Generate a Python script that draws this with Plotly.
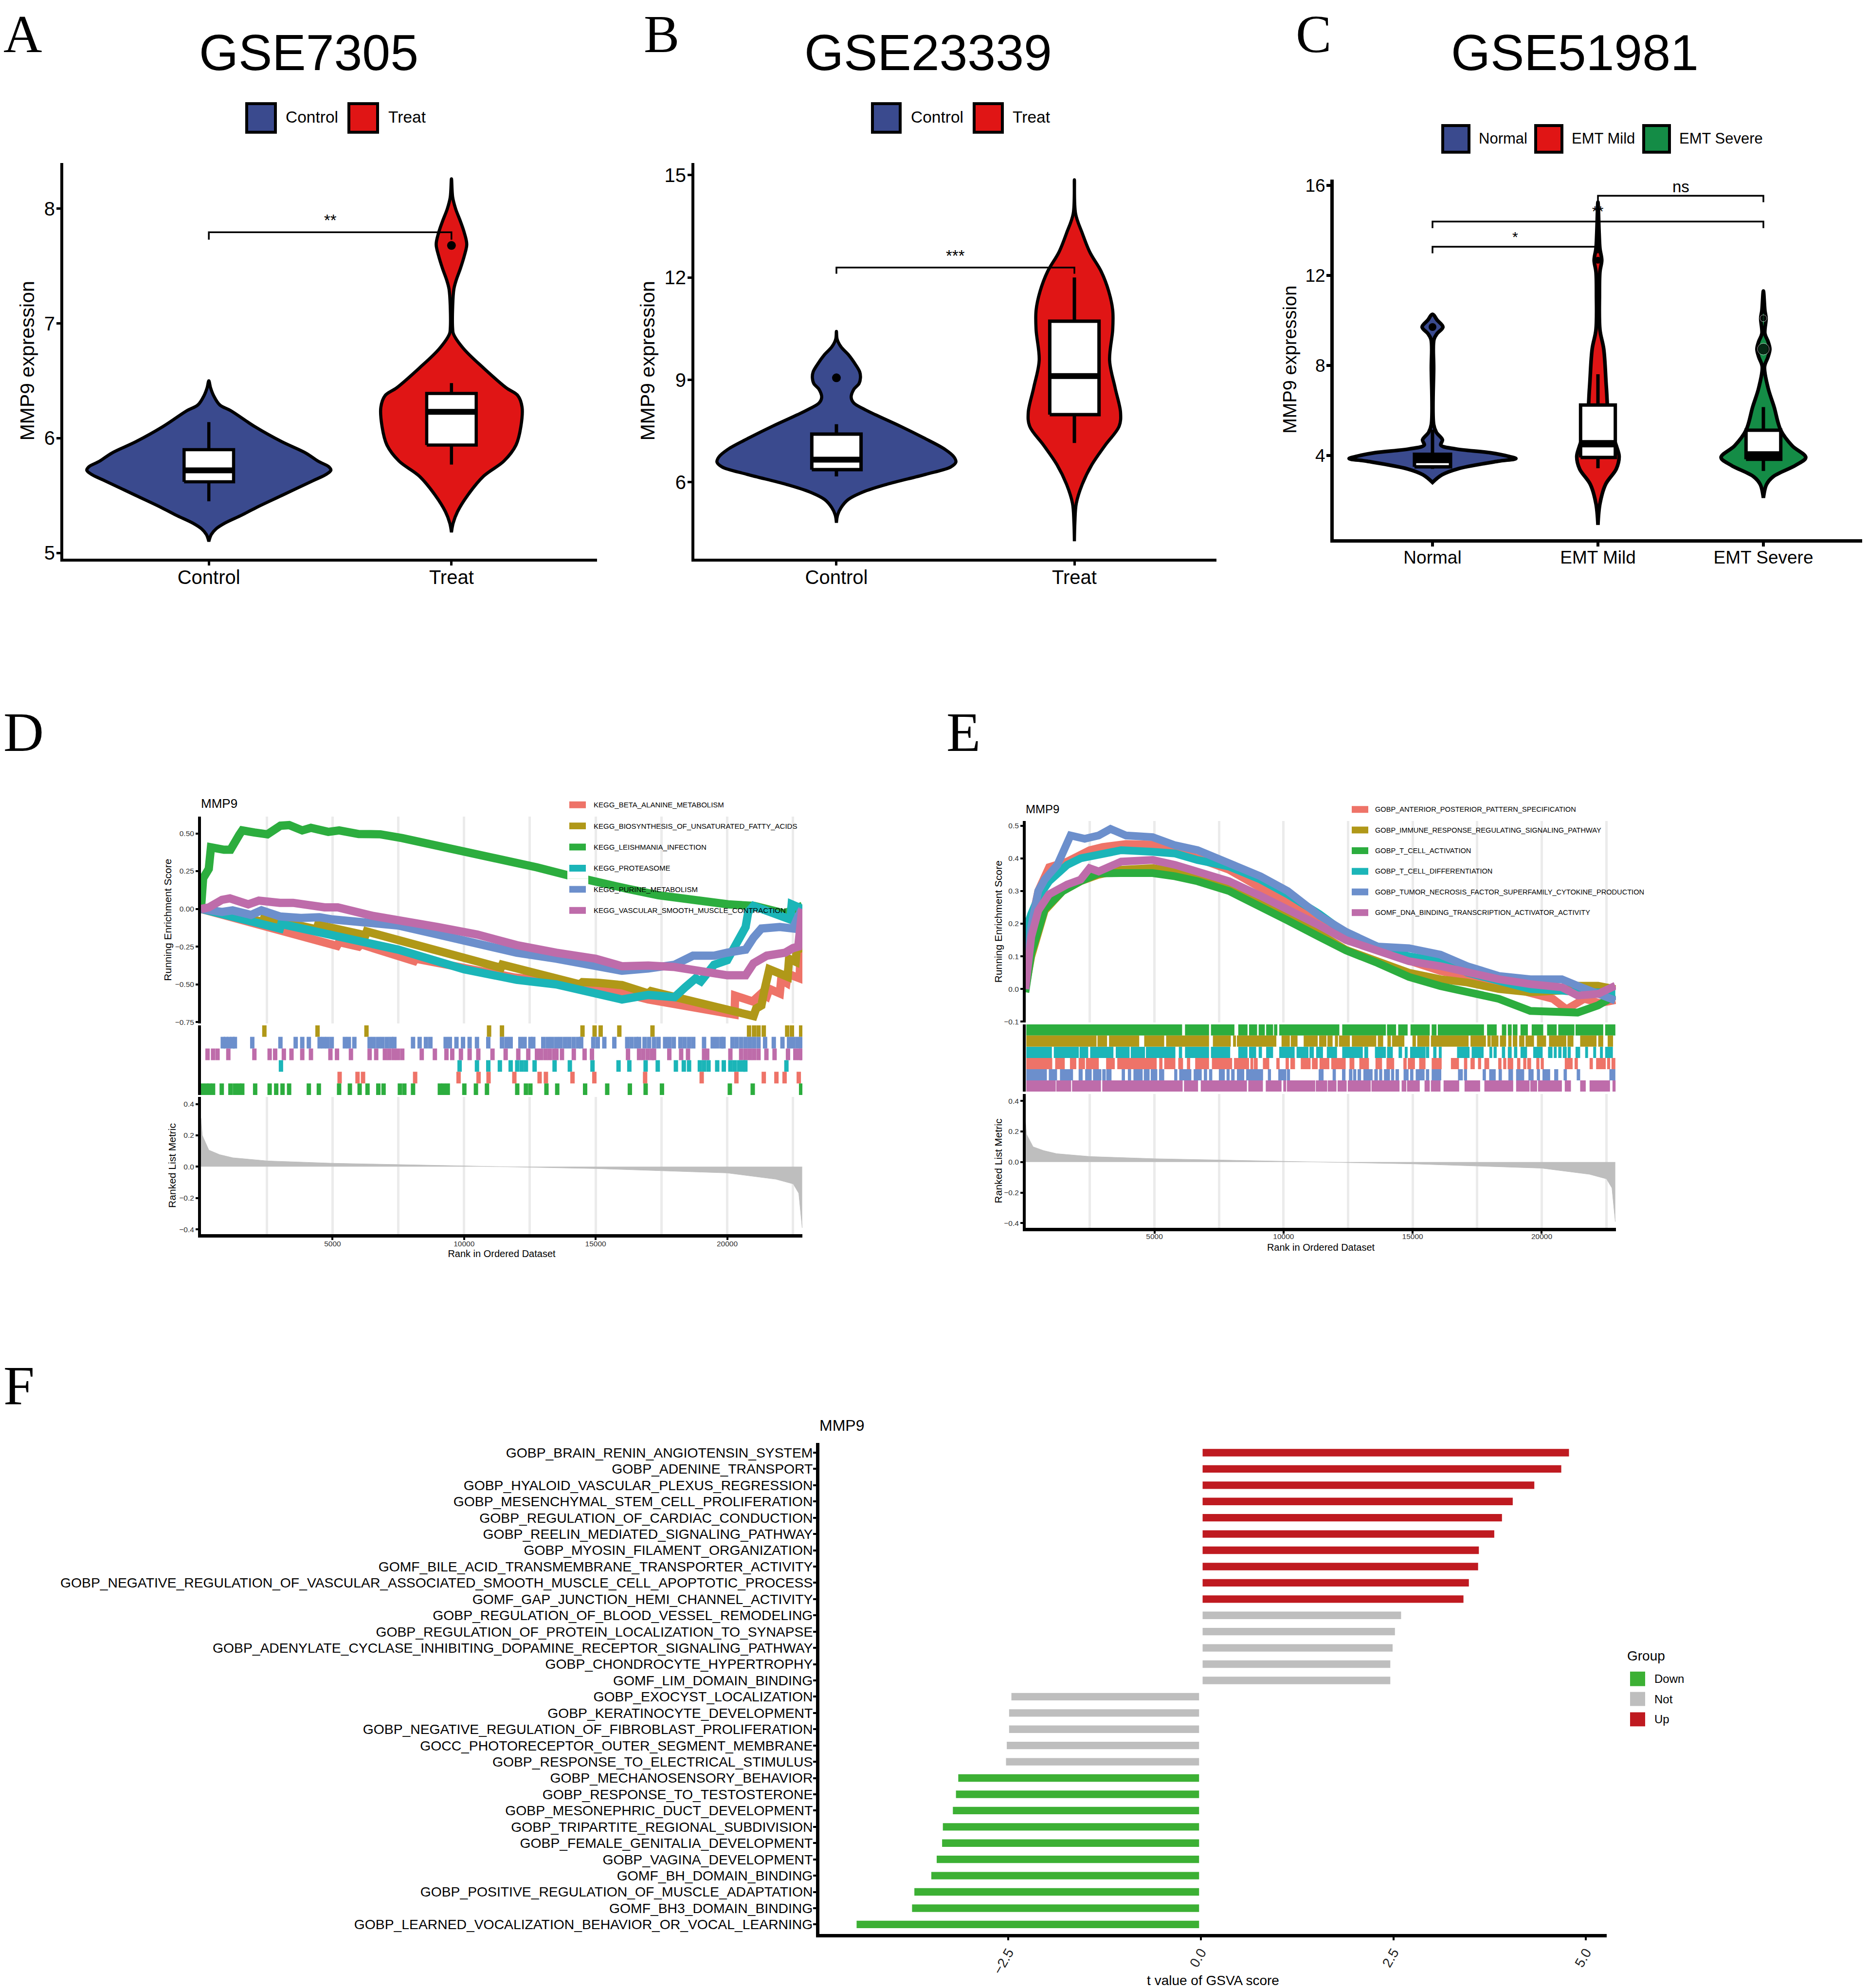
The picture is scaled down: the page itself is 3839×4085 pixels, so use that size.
import plotly.graph_objects as go

W, H = 3839, 4085
SANS = "Liberation Sans"
SERIF = "Liberation Serif"
NAVY, RED, DGREEN = "#3A4A8E", "#E01515", "#148C46"
SALMON, OLIVE, GREEN, TEAL, BLUE, PURPLE = "#EE7368", "#B09818", "#2CAD3E", "#1BB5B8", "#6C8FCC", "#BE6CAA"
GRID = "#EBEBEB"

# ---------- Panel A ----------
a_categories = ["Control", "Treat"]
a_ctrl_y = [6.50,6.44,6.37,6.29,6.24,6.10,5.97,5.87,5.80,5.75,5.72,5.68,5.63,5.50,5.40,5.33,5.26,5.21,5.16,5.10]
a_ctrl_w = [0,.007,.02,.045,.09,.19,.30,.40,.45,.495,.503,.48,.43,.30,.20,.136,.066,.03,.01,0]
a_treat_y = [8.26,8.10,8.0,7.89,7.79,7.69,7.59,7.48,7.38,7.30,7.15,6.95,6.91,6.78,6.61,6.44,6.37,6.27,6.10,5.94,5.80,5.67,5.50,5.36,5.26,5.18]
a_treat_w = [0,.005,.017,.037,.053,.063,.053,.037,.02,.01,.005,.005,.008,.05,.133,.225,.274,.291,.286,.266,.216,.133,.066,.025,.007,0]
a_boxes = [(5.45,5.62,5.72,5.90,6.14),(5.77,5.94,6.23,6.39,6.48)]
a_outliers = [[],[7.68]]

# ---------- Panel B ----------
b_categories = ["Control", "Treat"]
b_ctrl_y = [10.42,10.19,9.96,9.74,9.45,9.23,9.06,8.89,8.72,8.49,8.32,8.15,7.98,7.64,7.30,6.96,6.74,6.59,6.45,6.23,5.94,5.72,5.49,5.26,5.04,4.81]
b_ctrl_w = [0,.003,.02,.05,.08,.098,.101,.095,.073,.062,.073,.114,.163,.269,.367,.457,.494,.502,.481,.375,.212,.114,.049,.02,.005,0]
b_treat_y = [14.86,13.87,13.30,12.74,12.17,11.60,11.04,10.47,9.57,8.77,8.04,7.64,7.08,6.51,5.94,5.38,4.81,4.27]
b_treat_w = [0,.005,.033,.065,.113,.144,.161,.161,.148,.171,.194,.188,.129,.073,.033,.008,.002,0]
b_boxes = [(6.17,6.37,6.66,7.41,7.70),(7.15,7.98,9.11,10.72,12.0)]
b_outliers = [[9.06],[]]

# ---------- Panel C ----------
c_categories = ["Normal", "EMT Mild", "EMT Severe"]
c_norm_y = [10.28,10.02,9.71,9.42,9.16,7.87,5.38,5.03,4.69,4.46,4.29,4.12,3.95,3.86,3.74,3.40,3.14,2.80]
c_norm_w = [0,.028,.063,.028,.009,.007,.007,.023,.06,.05,.139,.348,.465,.504,.395,.151,.058,0]
c_mild_y = [15.26,13.89,13.2,12.68,12.17,11.13,9.59,8.73,7.01,5.29,4.43,3.95,3.40,2.71,1.85,0.91]
c_mild_w = [0,.007,.012,.023,.012,.009,.012,.035,.051,.07,.111,.128,.111,.046,.012,0]
c_sev_y = [11.31,10.45,10.10,9.42,9.07,8.73,8.38,7.95,7.01,6.15,5.12,4.43,3.91,3.57,3.05,2.71,2.11]
c_sev_w = [0,.009,.016,.009,.028,.039,.028,.007,.028,.065,.105,.174,.256,.197,.058,.019,0]
c_boxes = [(3.40,3.49,3.85,4.05,5.15),(3.43,3.91,4.52,6.24,7.61),(3.31,3.83,4.00,5.12,6.15)]
c_outliers = [[9.71],[12.68],[10.1,8.73]]

# ---------- Panel D ----------
d_names = ["KEGG_BETA_ALANINE_METABOLISM","KEGG_BIOSYNTHESIS_OF_UNSATURATED_FATTY_ACIDS","KEGG_LEISHMANIA_INFECTION","KEGG_PROTEASOME","KEGG_PURINE_METABOLISM","KEGG_VASCULAR_SMOOTH_MUSCLE_CONTRACTION"]
d_red_x = [0,3022,5170,5250,5995,6080,8100,8150,11940,14500,15000,17000,19091,20280,20300,21000,21050,21300,21500,21600,22000,22050,22250,22300,22750,22800,22850]
d_red_y = [0,-.15,-.245,-.22,-.25,-.235,-.345,-.33,-.455,-.50,-.51,-.60,-.665,-.70,-.575,-.615,-.60,-.56,-.58,-.53,-.56,-.47,-.49,-.43,-.46,-.05,0]
d_olive_x = [0,2350,2400,4400,4450,6250,6300,11000,11400,11450,14400,14500,15000,15100,16000,17000,17100,20800,21000,21100,21300,21400,21500,21600,22300,22350,22600,22650,22800,22850]
d_olive_y = [0,-.085,-.06,-.135,-.105,-.175,-.15,-.375,-.39,-.37,-.50,-.485,-.50,-.49,-.505,-.56,-.545,-.705,-.71,-.66,-.64,-.55,-.47,-.40,-.45,-.33,-.35,-.25,-.28,0]
d_green_x = [0,83,297,380,875,1123,1453,1569,2031,2527,3022,3353,3848,4178,4839,5252,5995,6821,7646,8472,9463,10454,11610,12766,13922,15078,16234,17390,18546,20033,21024,22180,22856]
d_green_y = [0,.203,.265,.408,.392,.392,.49,.52,.506,.494,.551,.555,.52,.537,.51,.52,.496,.494,.469,.439,.404,.367,.316,.275,.224,.173,.132,.09,.06,.03,.02,-.03,.02]
d_teal_x = [0,3000,3050,7500,10000,12000,13500,15000,16000,17000,18000,18400,18800,19000,19500,20000,20400,20700,20800,21000,22400,22450,22850]
d_teal_y = [0,-.13,-.10,-.27,-.40,-.47,-.50,-.56,-.60,-.57,-.585,-.52,-.46,-.48,-.37,-.34,-.21,-.12,-.02,.02,-.07,.03,0]
d_blue_x = [0,800,1200,1900,2300,3000,3800,4500,5000,5800,6300,7500,9000,10500,12000,13500,15000,16000,17000,18000,18700,19500,20000,20700,21000,21300,22000,22500,22700,22850]
d_blue_y = [0,-.02,-.01,-.04,-.01,-.05,-.06,-.055,-.07,-.08,-.09,-.11,-.17,-.23,-.29,-.33,-.37,-.41,-.395,-.37,-.31,-.31,-.29,-.27,-.19,-.13,-.12,-.13,-.05,0]
d_purple_x = [0,300,800,1100,1800,2200,3000,3500,4700,5200,6500,7500,9000,10500,12000,13500,15000,16000,17000,18000,19000,20000,20700,21000,21500,22200,22500,22700,22850]
d_purple_y = [0,.01,.06,.07,.03,.055,.04,.04,.01,.01,-.045,-.07,-.12,-.17,-.24,-.29,-.33,-.38,-.375,-.385,-.41,-.44,-.44,-.36,-.31,-.29,-.26,-.25,0]
d_rug_olive = [2410,4430,6290,10950,11440,14500,14960,15190,15900,17160,20830,21020,21190,21390,22280,22460,22810]
d_rug_blue = [830,950,1070,1200,1290,1950,3020,3600,3850,4100,4510,4660,4810,4970,5470,5620,5830,6410,6570,6740,6900,7070,7230,7350,8060,8310,8550,8720,9300,9460,9710,9960,10210,10490,10920,11440,11610,11770,12140,12300,12520,12630,13010,13180,13340,13510,13670,13840,14000,14170,14340,14450,14910,15080,15330,15710,16200,16360,16530,16650,16860,17030,17220,17390,17640,17800,17970,18220,18380,18550,18710,19120,19450,19610,19780,19860,20200,20360,20530,20700,20860,21020,21190,21440,21770,22100,22350,22510,22670,22810]
d_rug_purple = [250,460,630,1040,2030,2610,2820,3150,3440,3850,4180,4920,5170,5700,6410,6660,6990,7150,7320,7480,7650,8390,8890,9330,9550,9880,10210,10540,11080,11580,12060,12440,12770,12930,13100,13260,13430,13510,13720,14170,14580,14860,16230,16650,16810,16980,17140,17220,17800,18250,18510,19120,19240,20120,20530,20700,20860,21020,21190,21490,21800,22310,22590,22750,22840]
d_rug_teal = [3040,9830,10490,10920,11360,11770,12020,12190,12350,12680,13440,14020,14880,15870,16280,16900,17360,18050,18350,18550,18960,19120,19290,19620,19870,20120,20280,20450,20610,20690,22250]
d_rug_red = [5270,5950,6160,8140,9790,10550,10930,11910,12870,13110,14120,14950,16880,19030,20350,21390,21870,22180,22720]
d_rug_green = [50,200,330,460,790,1120,1290,1450,1570,2060,2610,2860,3100,3350,4100,4480,5250,5660,6030,6330,6740,6940,7560,7730,8060,9080,9220,9380,10010,10450,10870,12020,12350,12520,13130,13540,14600,15440,16300,16900,17520,20100,20970,22810]
d_metric_x = [0,50,300,710,1210,2520,5000,10000,11100,15000,20000,21850,22510,22720,22790,22850]
d_metric_y = [.31,.2,.106,.077,.057,.037,.022,.004,0,-.012,-.04,-.08,-.11,-.17,-.29,-.39]

# ---------- Panel E ----------
e_names = ["GOBP_ANTERIOR_POSTERIOR_PATTERN_SPECIFICATION","GOBP_IMMUNE_RESPONSE_REGULATING_SIGNALING_PATHWAY","GOBP_T_CELL_ACTIVATION","GOBP_T_CELL_DIFFERENTIATION","GOBP_TUMOR_NECROSIS_FACTOR_SUPERFAMILY_CYTOKINE_PRODUCTION","GOMF_DNA_BINDING_TRANSCRIPTION_ACTIVATOR_ACTIVITY"]
e_red_x = [0,230,500,920,1620,2490,3000,3900,4930,5630,6670,7890,9110,10160,11380,12600,13640,14860,16080,17120,18340,19560,20430,20960,21650,22260,22850]
e_red_y = [0,.2,.3,.373,.39,.425,.435,.444,.442,.43,.40,.365,.31,.265,.2,.16,.118,.085,.055,.038,.014,-.01,-.03,-.062,-.03,-.043,-.034]
e_olive_x = [0,230,750,1450,2140,2840,3710,4930,5800,6670,7890,9110,10160,11380,12420,13640,14860,16080,17120,18340,19560,20780,21390,22180,22850]
e_olive_y = [0,.10,.24,.30,.33,.35,.365,.37,.36,.345,.31,.265,.22,.17,.12,.085,.05,.03,.02,0,-.01,-.005,.01,.01,0]
e_green_x = [0,140,230,750,1450,2140,2840,3710,4930,5800,6670,7890,9110,10160,11380,12420,13640,14860,16080,17120,18340,19560,20780,21390,22180,22850]
e_green_y = [-.01,.05,.11,.245,.30,.33,.354,.355,.355,.345,.33,.30,.255,.21,.16,.118,.08,.037,.009,-.01,-.03,-.067,-.071,-.072,-.05,-.02]
e_teal_x = [0,100,230,500,920,1620,2140,2840,3710,4930,5800,6670,7890,9110,10160,11380,12420,13640,14860,16080,17120,18340,19560,20780,21390,22180,22850]
e_teal_y = [.05,.2,.23,.28,.33,.38,.40,.41,.425,.42,.415,.395,.375,.335,.29,.23,.17,.13,.10,.085,.05,.025,0,-.005,-.01,-.01,-.01]
e_blue_x = [0,230,500,750,1240,1750,2300,2840,3300,3900,4930,5800,6670,7890,9110,10160,11380,12420,13640,14860,16080,17120,18340,19560,20780,21390,22180,22850]
e_blue_y = [0,.19,.30,.335,.38,.47,.46,.47,.49,.47,.465,.44,.425,.385,.345,.30,.225,.175,.13,.125,.105,.07,.04,.03,.03,.01,-.015,-.035]
e_purple_x = [0,230,500,920,1620,2140,2490,2840,3710,4930,5800,6670,7890,9110,10160,11380,12420,13640,14860,16080,17120,18340,19560,20780,21390,22180,22850]
e_purple_y = [0,.16,.24,.29,.32,.335,.37,.36,.39,.395,.38,.36,.33,.285,.245,.195,.15,.115,.085,.07,.05,.03,.015,.005,-.02,-.015,.01]
e_rug_green = [(37,6072),(6184,7115),(7189,8098),(8247,8605),(8664,8977),(9037,9275),(9327,9596),(9633,9760),(9834,12162),(12273,13964),(14009,14359),(14441,14806),(14918,15663),(15738,15924),(15976,17764),(17883,18256),(18457,18628),(18688,18837),(18881,19060),(19179,19463),(19612,20059),(20208,20580),(20640,21265),(21310,22383),(22457,22852)]
e_rug_olive = [(37,2757),(2794,3166),(3241,4410),(4604,5379),(5453,7115),(7264,7957),(8046,8158),(8195,9722),(9923,10244),(10281,10542),(10780,11324),(11379,11662),(11700,11901),(11990,12109),(12147,12571),(12646,13592),(13652,13860),(14024,14158),(14203,14680),(14993,15127),(15179,15648),(15708,17168),(17242,17838),(17898,18025),(18047,18323),(18382,18621),(18703,18829),(18881,19053),(19127,19328),(19373,19701),(19813,20170),(20282,20953),(20997,21228),(21489,22122),(22189,22383),(22554,22763)]
e_rug_teal = [(37,1028),(1103,2071),(2101,2436),(2511,3412),(3502,4038),(4083,4634),(4671,5811),(5945,6072),(6184,7115),(7189,7934),(8247,8605),(8664,8940),(9037,9164),(9327,9596),(9834,10430),(10505,10966),(11004,11175),(11264,11528),(11677,12072),(12273,13070),(13130,13279),(13540,13964),(14009,14233),(14456,14590),(14695,14806),(14903,15499),(15514,15641),(15797,15924),(16013,16125),(16721,17205),(17287,17749),(17973,18084),(18136,18256),(18457,18583),(18688,18837),(18926,19053),(19179,19433),(19671,20036),(20245,20416),(20468,20580),(20640,20766),(20818,20967),(21005,21124),(21310,21489),(21683,21794),(21995,22107),(22256,22368),(22457,22755)]
e_rug_red = [(37,1043),(1155,1527),(1728,1974),(2064,2310),(2347,2846),(3129,3464),(3561,5088),(5185,5312),(5379,5811),(5923,6109),(6258,6385),(6578,7115),(7226,8009),(8083,8664),(8717,8828),(8851,9000),(9201,9447),(9722,9849),(10080,10207),(10266,10445),(10668,11048),(11101,11324),(11394,11774),(11849,12407),(12556,12743),(12936,13309),(13562,13815),(13987,14285),(14642,14769),(14814,15089),(15253,15499),(15738,16125),(16483,16795),(16989,17116),(17242,17406),(17533,17652),(17779,17965),(18315,18442),(18509,18628),(18680,18896),(19045,19172),(19284,19403),(19440,19589),(19790,19910),(19962,20081),(20893,21198),(21273,21400),(21854,21981),(22107,22480),(22532,22651),(22703,22852)]
e_rug_blue = [(37,834),(909,1229),(1341,1848),(2064,2220),(2317,2570),(2622,2943),(2980,3114),(3136,3338),(3732,3859),(3971,4098),(4187,4544),(4589,4813),(4857,5111),(5178,5379),(5766,5886),(5960,6429),(6519,6832),(6914,7040),(7115,7241),(7495,7726),(7793,7912),(7972,8106),(8195,8478),(8553,9208),(9394,9514),(9797,10110),(10132,10251),(11361,11551),(11901,12027),(12266,12400),(12534,12668),(12698,12817),(12869,13003),(13093,13450),(13517,13652),(13704,13823),(13890,14121),(14166,14285),(14337,14471),(14650,14844),(14903,15030),(15119,15462),(15514,15641),(15738,16110),(16758,16944),(16989,17108),(17712,17838),(17965,18218),(18330,18457),(18710,18889),(19008,19321),(19485,19686),(19813,19932),(20029,20327),(20483,20640),(20848,20975),(21355,21489),(22621,22852)]
e_rug_purple = [(37,1177),(1199,1773),(1810,2928),(2980,6094),(6146,6690),(6794,8582),(8635,9201),(9312,9923),(9990,10102),(10132,11227),(11250,11692),(11715,12050),(12094,12445),(12489,13376),(13406,14493),(14575,14754),(14784,15276),(15462,15663),(15708,16080),(16199,16803),(17011,17615),(17779,18896),(19008,19530),(19559,19820),(19857,20781),(20893,21131),(21489,21705),(21854,22644),(22741,22860)]
e_metric_x = [0,50,300,710,1210,2520,5000,10000,11100,15000,20000,21850,22510,22720,22790,22850]
e_metric_y = [.28,.18,.10,.075,.055,.036,.022,.004,0,-.012,-.04,-.08,-.11,-.17,-.29,-.39]

# ---------- Panel F ----------
f_terms = ["GOBP_BRAIN_RENIN_ANGIOTENSIN_SYSTEM","GOBP_ADENINE_TRANSPORT","GOBP_HYALOID_VASCULAR_PLEXUS_REGRESSION","GOBP_MESENCHYMAL_STEM_CELL_PROLIFERATION","GOBP_REGULATION_OF_CARDIAC_CONDUCTION","GOBP_REELIN_MEDIATED_SIGNALING_PATHWAY","GOBP_MYOSIN_FILAMENT_ORGANIZATION","GOMF_BILE_ACID_TRANSMEMBRANE_TRANSPORTER_ACTIVITY","GOBP_NEGATIVE_REGULATION_OF_VASCULAR_ASSOCIATED_SMOOTH_MUSCLE_CELL_APOPTOTIC_PROCESS","GOMF_GAP_JUNCTION_HEMI_CHANNEL_ACTIVITY",
 "GOBP_REGULATION_OF_BLOOD_VESSEL_REMODELING","GOBP_REGULATION_OF_PROTEIN_LOCALIZATION_TO_SYNAPSE","GOBP_ADENYLATE_CYCLASE_INHIBITING_DOPAMINE_RECEPTOR_SIGNALING_PATHWAY","GOBP_CHONDROCYTE_HYPERTROPHY","GOMF_LIM_DOMAIN_BINDING","GOBP_EXOCYST_LOCALIZATION","GOBP_KERATINOCYTE_DEVELOPMENT","GOBP_NEGATIVE_REGULATION_OF_FIBROBLAST_PROLIFERATION","GOCC_PHOTORECEPTOR_OUTER_SEGMENT_MEMBRANE","GOBP_RESPONSE_TO_ELECTRICAL_STIMULUS",
 "GOBP_MECHANOSENSORY_BEHAVIOR","GOBP_RESPONSE_TO_TESTOSTERONE","GOBP_MESONEPHRIC_DUCT_DEVELOPMENT","GOBP_TRIPARTITE_REGIONAL_SUBDIVISION","GOBP_FEMALE_GENITALIA_DEVELOPMENT","GOBP_VAGINA_DEVELOPMENT","GOMF_BH_DOMAIN_BINDING","GOBP_POSITIVE_REGULATION_OF_MUSCLE_ADAPTATION","GOMF_BH3_DOMAIN_BINDING","GOBP_LEARNED_VOCALIZATION_BEHAVIOR_OR_VOCAL_LEARNING"]
f_values = [4.78,4.68,4.33,4.05,3.91,3.81,3.61,3.60,3.48,3.41,2.60,2.52,2.49,2.46,2.46,-2.46,-2.49,-2.49,-2.52,-2.53,-3.15,-3.18,-3.22,-3.35,-3.36,-3.43,-3.50,-3.72,-3.75,-4.47]
f_groups = ["Up"]*10 + ["Not"]*10 + ["Down"]*10
f_colors = {"Up": "#BF1A20", "Not": "#BEBEBE", "Down": "#3CB034"}
f_gap = 0.023

fig = go.Figure()
layout = {}
shapes = []
annots = []
axis_count = 0


def px_x(x): return x / W
def px_y(y): return 1 - y / H


def new_axes(L, R, T, B, xcfg, ycfg):
    global axis_count
    axis_count += 1
    n = axis_count
    sx = "" if n == 1 else str(n)
    xcfg = dict(xcfg, domain=[px_x(L), px_x(R)], anchor="y" + sx)
    ycfg = dict(ycfg, domain=[px_y(B), px_y(T)], anchor="x" + sx)
    layout["xaxis" + sx] = xcfg
    layout["yaxis" + sx] = ycfg
    return "x" + sx, "y" + sx


def text(x, y, s, size, family=SANS, color="black", xanchor="center", yanchor="middle", xref="paper", yref="paper"):
    if xref == "paper":
        x = px_x(x)
    if yref == "paper":
        y = px_y(y)
    annots.append(dict(x=x, y=y, text=s, xref=xref, yref=yref, showarrow=False,
                       font=dict(size=size, family=family, color=color), xanchor=xanchor, yanchor=yanchor,
                       borderpad=0, borderwidth=0))


def key(x0, x1, y0, y1, fill, line_w=0, line_c="black", layer="above"):
    shapes.append(dict(type="rect", xref="paper", yref="paper", x0=px_x(x0), x1=px_x(x1), y0=px_y(y0), y1=px_y(y1),
                       fillcolor=fill, line=dict(width=line_w, color=line_c), layer=layer))


def line(xa, ya, xs, ys, w, color="black"):
    fig.add_trace(go.Scatter(x=xs, y=ys, xaxis=xa, yaxis=ya, mode="lines", line=dict(color=color, width=w),
                             showlegend=False, hoverinfo="skip"))


def violin(xa, ya, center, ys, ws, color, lw):
    xs = [center - w for w in ws] + [center + w for w in reversed(ws)]
    yy = list(ys) + list(reversed(ys))
    fig.add_trace(go.Scatter(x=xs, y=yy, xaxis=xa, yaxis=ya, mode="lines", fill="toself", fillcolor=color,
                             line=dict(color="black", width=lw, shape="spline", smoothing=1.0), showlegend=False, hoverinfo="skip"))


def box(xa, ya, center, stats, width, lw, medw, outliers, msizes):
    lo, q1, med, q3, hi = stats
    l, r = center - width / 2, center + width / 2
    line(xa, ya, [center, center, None, center, center], [lo, q1, None, q3, hi], lw)
    fig.add_trace(go.Scatter(x=[l, r, r, l, l], y=[q1, q1, q3, q3, q1], xaxis=xa, yaxis=ya, mode="lines", fill="toself",
                             fillcolor="white", line=dict(color="black", width=lw), showlegend=False, hoverinfo="skip"))
    line(xa, ya, [l, r], [med, med], medw)
    if outliers:
        fig.add_trace(go.Scatter(x=[center] * len(outliers), y=outliers, xaxis=xa, yaxis=ya, mode="markers",
                                 marker=dict(color="black", size=msizes), showlegend=False, hoverinfo="skip"))


def bracket(xa, ya, x0, x1, top, tip):
    line(xa, ya, [x0, x0, x1, x1], [tip, top, top, tip], 3.5)


def vio_axes(L, R, T, B, xrange, yrange, cats, yt, tsize, lw, stand):
    xcfg = dict(range=xrange, tickmode="array", tickvals=list(range(1, len(cats) + 1)), ticktext=cats, showgrid=False, zeroline=False,
                showline=True, linecolor="black", linewidth=lw, ticks="outside", ticklen=8, tickwidth=lw - 1, tickcolor="black",
                ticklabelstandoff=-10, tickfont=dict(size=tsize, family=SANS, color="black"))
    ycfg = dict(range=yrange, tickmode="array", tickvals=yt, showgrid=False, zeroline=False, showline=True, linecolor="black",
                linewidth=lw, ticks="outside", ticklen=8, tickwidth=lw - 1, tickcolor="black", ticklabelstandoff=-5,
                tickfont=dict(size=tsize, family=SANS, color="black"),
                title=dict(text="MMP9 expression", standoff=stand, font=dict(size=tsize + 1, family=SANS, color="black")))
    return new_axes(L, R, T, B, xcfg, ycfg)


# Panel A draw
xa, ya = vio_axes(130, 1227, 328, 1145, [0.4, 2.6], [4.95, 8.40], a_categories, [5, 6, 7, 8], 40, 6, 9)
violin(xa, ya, 1, a_ctrl_y, a_ctrl_w, NAVY, 6.5)
violin(xa, ya, 2, a_treat_y, a_treat_w, RED, 6.5)
box(xa, ya, 1, a_boxes[0], 0.204, 6.5, 12, a_outliers[0], 18)
box(xa, ya, 2, a_boxes[1], 0.204, 6.5, 12, a_outliers[1], 18)
bracket(xa, ya, 1, 2, 7.795, 7.73)
text(1.5, 7.90, "**", 33, xref=xa, yref=ya)

# Panel B draw
xa, ya = vio_axes(1427, 2500, 328, 1145, [0.403, 2.597], [3.76, 15.36], b_categories, [6, 9, 12, 15], 40, 6, 9)
violin(xa, ya, 1, b_ctrl_y, b_ctrl_w, NAVY, 6.5)
violin(xa, ya, 2, b_treat_y, b_treat_w, RED, 6.5)
box(xa, ya, 1, b_boxes[0], 0.207, 7, 12, b_outliers[0], 18)
box(xa, ya, 2, b_boxes[1], 0.207, 7, 12, b_outliers[1], 18)
bracket(xa, ya, 1, 2, 12.29, 12.11)
text(1.5, 12.64, "***", 33, xref=xa, yref=ya)

# Panel C draw
xa, ya = vio_axes(2741, 3827, 363, 1105, [0.403, 3.597], [0.27, 16.26], c_categories, [4, 8, 12, 16], 37, 7, 9)
violin(xa, ya, 1, c_norm_y, c_norm_w, NAVY, 7.5)
violin(xa, ya, 2, c_mild_y, c_mild_w, RED, 7.5)
violin(xa, ya, 3, c_sev_y, c_sev_w, DGREEN, 7.5)
box(xa, ya, 1, c_boxes[0], 0.218, 7, 18, c_outliers[0], 16)
box(xa, ya, 2, c_boxes[1], 0.21, 7, 15, c_outliers[1], 14)
box(xa, ya, 3, c_boxes[2], 0.21, 7, 17, c_outliers[2], [14, 24])
bracket(xa, ya, 1, 2, 13.28, 12.99)
bracket(xa, ya, 1, 3, 14.40, 14.11)
bracket(xa, ya, 2, 3, 15.55, 15.26)
text(1.5, 13.73, "*", 30, xref=xa, yref=ya)
text(2, 14.88, "**", 30, xref=xa, yref=ya)
text(2.5, 15.95, "ns", 33, xref=xa, yref=ya)

# Titles and legends A-C
for cx, s in [(634, "GSE7305"), (1907, "GSE23339"), (3236, "GSE51981")]:
    text(cx, 100, s, 104)
for x0, x1, y0, y1, c in [(507, 566, 206, 265, NAVY), (717, 776, 206, 265, RED), (1793, 1850, 206, 265, NAVY), (2002, 2060, 206, 265, RED),
                          (2965, 3019, 251, 306, NAVY), (3156, 3210, 251, 306, RED), (3378, 3431, 251, 306, DGREEN)]:
    key(x0, x1, y0, y1, c, 6)
for x, y, s, sz in [(587, 234, "Control", 33.5), (798, 234, "Treat", 33.5), (1872, 234, "Control", 33.5), (2081, 234, "Treat", 33.5),
                    (3039, 278, "Normal", 31), (3230, 278, "EMT Mild", 31), (3451, 278, "EMT Severe", 31)]:
    text(x, y, s, sz, xanchor="left")
for x, s in [(7, "A"), (1323, "B"), (2663, "C")]:
    text(x, 1, s, 110, family=SERIF, xanchor="left", yanchor="top")
for x, y, s in [(7, 1503, "D"), (1945, 1503, "E"), (7, 2852, "F")]:
    text(x, y, s, 115, family=SERIF, xanchor="left")


def gsea_axes(L, R, T1, B1, T2, B2, T3, B3, xrange, y1range, y1ticks, y1fmt, y3range, y3ticks, stand, tick_off, title_stand):
    major = [5000, 10000, 15000, 20000]
    minor = [2500, 7500, 12500, 17500, 22500]
    tfont = dict(size=15.5, family=SANS, color="#333333")
    grid = dict(showgrid=True, gridcolor=GRID, gridwidth=5, minor=dict(tickvals=minor, showgrid=True, gridcolor=GRID, gridwidth=5))
    x1 = dict(range=xrange, tickmode="array", tickvals=major, showticklabels=False, zeroline=False, ticks="", **grid)
    y1 = dict(range=y1range, tickmode="array", tickvals=y1ticks, tickformat=y1fmt, showgrid=False, zeroline=False, showline=True, linecolor="black",
              linewidth=6, ticks="outside", ticklen=5, tickwidth=4, tickcolor="black", tickfont=tfont,
              title=dict(text="Running Enrichment Score", standoff=stand, font=dict(size=21, family=SANS, color="black")))
    a1 = new_axes(L, R, T1, B1, x1, y1)
    x2 = dict(range=xrange, showticklabels=False, showgrid=False, zeroline=False, ticks="")
    y2 = dict(range=[0, 6], showticklabels=False, showgrid=False, zeroline=False, showline=True, linecolor="black", linewidth=6, ticks="")
    a2 = new_axes(L, R, T2, B2, x2, y2)
    x3 = dict(range=xrange, tickmode="array", tickvals=major, ticktext=[str(v) for v in major], zeroline=False, showline=True, linecolor="black",
              linewidth=7, ticks="outside", ticklen=5, tickwidth=4, tickcolor="black", tickfont=tfont, ticklabelstandoff=tick_off,
              title=dict(text="Rank in Ordered Dataset", standoff=title_stand, font=dict(size=20, family=SANS, color="black")), **grid)
    y3 = dict(range=y3range, tickmode="array", tickvals=y3ticks, tickformat=".1f", showgrid=False, zeroline=False, showline=True, linecolor="black",
              linewidth=6, ticks="outside", ticklen=5, tickwidth=4, tickcolor="black", tickfont=tfont,
              title=dict(text="Ranked List Metric", standoff=stand, font=dict(size=21, family=SANS, color="black")))
    a3 = new_axes(L, R, T3, B3, x3, y3)
    return a1, a2, a3


def curve(a, xs, ys, color, w):
    line(a[0], a[1], xs, ys, w, color)


def rug_ticks(a, row, ranks, color, w):
    xs, ys = [], []
    for r in ranks:
        xs += [r, r, None]
        ys += [row, row + 1, None]
    line(a[0], a[1], xs, ys, w, color)


def rug_spans(a, row, spans, color, h):
    xs, ys = [], []
    for s, e in spans:
        xs += [s, e, None]
        ys += [row + 0.5, row + 0.5, None]
    line(a[0], a[1], xs, ys, h, color)


def metric(a, xs, ys):
    fig.add_trace(go.Scatter(x=xs, y=ys, xaxis=a[0], yaxis=a[1], mode="lines", fill="tozeroy", fillcolor="#BEBEBE",
                             line=dict(color="#BEBEBE", width=1), showlegend=False, hoverinfo="skip"))


# Panel D draw
a1, a2, a3 = gsea_axes(413, 1649, 1677, 2104, 2108, 2252, 2256, 2539, [0, 22857], [-0.758, 0.6125], [-.75, -.5, -.25, 0, .25, .5], ".2f",
                       [-.43, .445], [-.4, -.2, 0, .2, .4], 3, -5, 8)
for xs, ys, c in [(d_red_x, d_red_y, SALMON), (d_olive_x, d_olive_y, OLIVE), (d_green_x, d_green_y, GREEN),
                  (d_teal_x, d_teal_y, TEAL), (d_blue_x, d_blue_y, BLUE), (d_purple_x, d_purple_y, PURPLE)]:
    curve(a1, xs, ys, c, 17)
for row, ranks, c in [(5, d_rug_olive, OLIVE), (4, d_rug_blue, BLUE), (3, d_rug_purple, PURPLE), (2, d_rug_teal, TEAL), (1, d_rug_red, SALMON), (0, d_rug_green, GREEN)]:
    rug_ticks(a2, row, ranks, c, 9)
metric(a3, d_metric_x, d_metric_y)
text(413, 1650, "MMP9", 26, xanchor="left")
for i, (s, c) in enumerate(zip(d_names, [SALMON, OLIVE, GREEN, TEAL, BLUE, PURPLE])):
    yc = 1653 + 43.6 * i
    key(1166, 1209, yc - 21.8, yc + 21.8, "white")
    key(1170, 1204, yc - 7, yc + 7, c)
    text(1220, yc, s, 15, xanchor="left")

# Panel E draw
a1, a2, a3 = gsea_axes(2108, 3321, 1686, 2102, 2106, 2245, 2250, 2526, [15, 22875], [-0.102, 0.515], [-.1, 0, .1, .2, .3, .4, .5], ".1f",
                       [-.43, .445], [-.4, -.2, 0, .2, .4], 0, -7, 10)
for xs, ys, c in [(e_red_x, e_red_y, SALMON), (e_olive_x, e_olive_y, OLIVE), (e_green_x, e_green_y, GREEN),
                  (e_teal_x, e_teal_y, TEAL), (e_blue_x, e_blue_y, BLUE), (e_purple_x, e_purple_y, PURPLE)]:
    curve(a1, xs, ys, c, 16)
for row, spans, c in [(5, e_rug_green, GREEN), (4, e_rug_olive, OLIVE), (3, e_rug_teal, TEAL), (2, e_rug_red, SALMON), (1, e_rug_blue, BLUE), (0, e_rug_purple, PURPLE)]:
    rug_spans(a2, row, spans, c, 23)
metric(a3, e_metric_x, e_metric_y)
text(2108, 1662, "MMP9", 24, xanchor="left")
for i, (s, c) in enumerate(zip(e_names, [SALMON, OLIVE, GREEN, TEAL, BLUE, PURPLE])):
    yc = 1662.5 + 42.6 * i
    key(2774, 2816, yc - 21.3, yc + 21.3, "white")
    key(2778, 2812, yc - 7, yc + 7, c)
    text(2826, yc, s, 14.6, xanchor="left")

# Panel F draw
xf = dict(range=[-4.953, 5.27], tickmode="array", tickvals=[-2.5, 0, 2.5, 5], ticktext=["\u22122.5", "0.0", "2.5", "5.0"], tickangle=-60,
          showgrid=False, zeroline=False, showline=True, linecolor="black", linewidth=7, ticks="outside", ticklen=6, tickwidth=4, tickcolor="black",
          ticklabelstandoff=-3, tickfont=dict(size=28, family=SANS, color="#222222"),
          title=dict(text="t value of GSVA score", standoff=3, font=dict(size=28, family=SANS, color="black")))
yf = dict(type="category", categoryorder="array", categoryarray=f_terms[::-1], range=[-0.6, 29.6], showgrid=False, zeroline=False, showline=True,
          linecolor="black", linewidth=7, ticks="outside", ticklen=6, tickwidth=4, tickcolor="black", tickmode="linear", dtick=1,
          ticklabelstandoff=-5, tickfont=dict(size=28.3, family=SANS, color="black"))
xa, ya = new_axes(1684, 3302, 2970, 3984, xf, yf)
for g in ["Up", "Not", "Down"]:
    idx = [i for i, v in enumerate(f_groups) if v == g]
    bases = [f_gap if f_values[i] > 0 else -f_gap for i in idx]
    fig.add_trace(go.Bar(x=[f_values[i] - b for i, b in zip(idx, bases)], base=bases, y=[f_terms[i] for i in idx], orientation="h",
                         xaxis=xa, yaxis=ya, width=0.46, marker=dict(color=f_colors[g], line=dict(width=0)), showlegend=False, hoverinfo="skip"))
text(1684, 2934, "MMP9", 32, xanchor="left")
text(3344, 3410, "Group", 28, xanchor="left")
for (y0, y1), g in zip([(3442, 3472), (3484, 3513), (3526, 3555)], ["Down", "Not", "Up"]):
    key(3350, 3381, y0, y1, f_colors[g])
    text(3400, (y0 + y1) / 2, g, 24, xanchor="left")

fig.update_layout(width=W, height=H, margin=dict(l=0, r=0, t=0, b=0), paper_bgcolor="white", plot_bgcolor="rgba(0,0,0,0)",
                  shapes=shapes, annotations=annots, showlegend=False, barmode="overlay",
                  font=dict(family=SANS), **layout)
fig.write_html("out.html", config={"displayModeBar": False}, post_script="document.body.style.margin='0';document.body.style.padding='0';")
